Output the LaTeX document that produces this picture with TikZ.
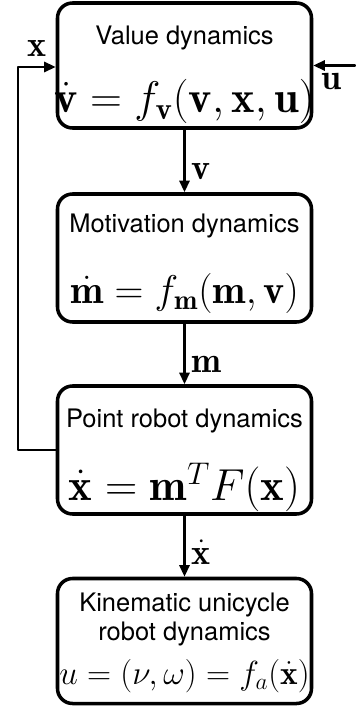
\documentclass[tikz,border=0pt]{standalone}
\usepackage{fix-cm}
\usepackage{amsmath,amssymb}
\usepackage{fontspec}
\setsansfont{TeX Gyre Heros}
\usetikzlibrary{calc,arrows.meta}

\begin{document}
\begin{tikzpicture}[>={Triangle[length=2.3mm,width=2mm]},line join=round,line cap=round,
  block/.style={draw, line width=2pt, rounded corners=0.3cm, minimum width=5.08cm, minimum height=2.5cm},
  title/.style={font=\fontsize{14.5}{16.5}\selectfont\sffamily, align=center, inner sep=0pt},
  eqn/.style={font=\fontsize{#1}{#1}\selectfont, inner sep=0pt},
  sig/.style={font=\fontsize{20.5}{24}\selectfont, inner sep=3.5pt},
  flow/.style={->, line width=1.4pt}]
  \useasboundingbox (0,0) rectangle (7.1,-14.12);

  % blocks
  \node[block] (value) at (3.69,-1.31) {};
  \node[block, minimum height=2.56cm] (motiv) at (3.69,-5.16) {};
  \node[block, minimum height=2.56cm] (point) at (3.69,-9.00) {};
  \node[block] (kin) at (3.69,-12.82) {};

  \node[title] (valuet) at ($(value.center)+(0,0.56)$) {Value dynamics};
  \node[eqn=25.2] (valuee) at ($(value.center)+(0,-0.72)$) {$\dot{\mathbf{v}} = f_{\mathbf{v}}(\mathbf{v},\mathbf{x},\mathbf{u})$};
  \node[title] (motivt) at ($(motiv.center)+(0,0.64)$) {Motivation dynamics};
  \node[eqn=22.8] (motive) at ($(motiv.center)+(0,-0.70)$) {$\dot{\mathbf{m}} = f_{\mathbf{m}}(\mathbf{m},\mathbf{v})$};
  \node[title] (pointt) at ($(point.center)+(0,0.58)$) {Point robot dynamics};
  \node[eqn=25.5] (pointe) at ($(point.center)+(0,-0.74)$) {$\dot{\mathbf{x}} = \mathbf{m}^T F(\mathbf{x})$};
  \node[title] (kint) at ($(kin.center)+(0,0.44)$) {Kinematic unicycle\\robot dynamics};
  \node[eqn=19] (kine) at ($(kin.center)+(0,-0.70)$) {$u = (\nu,\omega) = f_a(\dot{\mathbf{x}})$};

  % connections
  \draw[flow] (value) -- node[sig, right, pos=0.67] (vlab) {$\mathbf{v}$} (motiv);
  \draw[flow] (motiv) -- node[sig, right, pos=0.68] (mlab) {$\mathbf{m}$} (point);
  \draw[flow] (point) -- node[sig, right, pos=0.6] (xdlab) {$\dot{\mathbf{x}}$} (kin);

  \coordinate (fb) at (0.36,-9.00);
  \draw[flow] (point.west) -- (fb) |- ([yshift=-0.03cm]value.west);
  \node[sig] (xlab) at (0.74,-0.97) {$\mathbf{x}$};

  \coordinate (uin) at (7.1,-1.31);
  \draw[flow] (uin) -- (value.east);
  \node[sig] (ulab) at (6.64,-1.64) {$\mathbf{u}$};
\end{tikzpicture}
\end{document}
